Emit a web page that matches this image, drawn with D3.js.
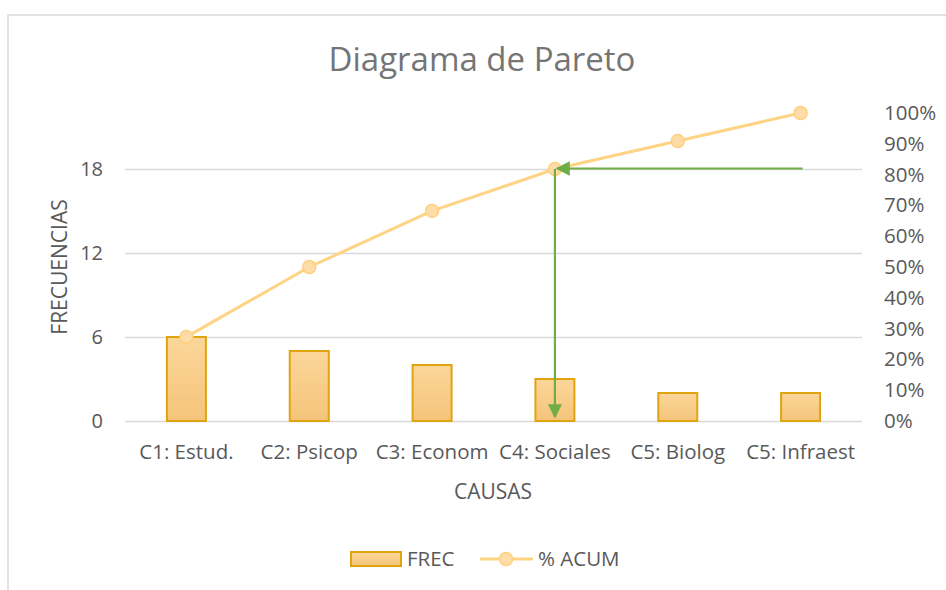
<!DOCTYPE html>
<html>
<head>
<meta charset="utf-8">
<script src="https://cdn.jsdelivr.net/npm/d3@7"></script>
<style>
  body { margin: 0; background: #fff; }
  svg { font-family: "Open Sans", Lato, sans-serif; }
</style>
</head>
<body>
<svg id="chart" width="946" height="590"></svg>
<script>
// data
var categories = ["C1: Estud.", "C2: Psicop", "C3: Econom", "C4: Sociales", "C5: Biolog", "C5: Infraest"]
var frec = [6, 5, 4, 3, 2, 2]
var acum = [27.3, 50, 68.2, 81.8, 90.9, 100]
var leftTicks = [0, 6, 12, 18]
var rightTicks = [0, 10, 20, 30, 40, 50, 60, 70, 80, 90, 100]

var svg = d3.select("#chart")
var margin = { top: 113, left: 125, right: 84, bottom: 169 }
var width = 946 - margin.left - margin.right
var height = 590 - margin.top - margin.bottom
var font = "'Open Sans', Lato, sans-serif"

var defs = svg.append("defs")
var grad = defs.append("linearGradient")
  .attr("id", "barGrad")
  .attr("x1", 0).attr("y1", 0).attr("x2", 0).attr("y2", 1)
grad.append("stop").attr("offset", "0%").attr("stop-color", "#FCD69A")
grad.append("stop").attr("offset", "100%").attr("stop-color", "#F4C47A")

defs.append("marker")
  .attr("id", "arrow")
  .attr("viewBox", "0 0 10 10")
  .attr("refX", 9).attr("refY", 5)
  .attr("markerWidth", 7).attr("markerHeight", 6.5)
  .attr("markerUnits", "strokeWidth")
  .attr("orient", "auto")
  .append("path")
  .attr("d", "M0,0 L10,5 L0,10 z")
  .attr("fill", "#70AD47")

// outer border
svg.append("rect")
  .attr("x", 8).attr("y", 15)
  .attr("width", 960).attr("height", 600)
  .attr("fill", "none")
  .attr("stroke", "#D9D9D9")
  .attr("stroke-width", 1.5)

var g = svg.append("g")
  .attr("transform", "translate(" + margin.left + "," + margin.top + ")")

var x = d3.scaleBand().domain(categories).range([0, width])
var y = d3.scaleLinear().domain([0, 22]).range([height, 0])
var y2 = d3.scaleLinear().domain([0, 100]).range([height, 0])

// gridlines
g.append("g")
  .selectAll("line")
  .data(leftTicks)
  .enter()
  .append("line")
  .attr("x1", 0).attr("x2", width)
  .attr("y1", function(d) { return Math.round(y(d)) + 0.5 })
  .attr("y2", function(d) { return Math.round(y(d)) + 0.5 })
  .attr("stroke", "#D9D9D9")
  .attr("stroke-width", 1.5)

// left axis
var yAxis = g.append("g")
  .call(d3.axisLeft(y).tickValues(leftTicks).tickSize(0).tickPadding(22))
yAxis.attr("font-family", font)
yAxis.select(".domain").remove()
yAxis.selectAll("text").attr("font-size", 20).attr("fill", "#595959")

// right axis
var y2Axis = g.append("g")
  .attr("transform", "translate(" + width + ",0)")
  .call(d3.axisRight(y2).tickValues(rightTicks).tickSize(0).tickPadding(22)
    .tickFormat(function(d) { return d + "%" }))
y2Axis.attr("font-family", font)
y2Axis.select(".domain").remove()
y2Axis.selectAll("text").attr("font-size", 20.5).attr("fill", "#595959")

// bottom axis
var xAxis = g.append("g")
  .attr("transform", "translate(0," + height + ")")
  .call(d3.axisBottom(x).tickSize(0).tickPadding(23))
xAxis.attr("font-family", font)
xAxis.select(".domain").remove()
xAxis.selectAll("text").attr("font-size", 20.5).attr("fill", "#595959")

// bars
var barW = 39
g.append("g")
  .selectAll("rect")
  .data(frec)
  .enter()
  .append("rect")
  .attr("x", function(d, i) { return x(categories[i]) + x.bandwidth() / 2 - barW / 2 })
  .attr("y", function(d) { return y(d) })
  .attr("width", barW)
  .attr("height", function(d) { return height - y(d) })
  .attr("fill", "url(#barGrad)")
  .attr("stroke", "#E0A50E")
  .attr("stroke-width", 2)

// cumulative line
var line = d3.line()
  .x(function(d, i) { return x(categories[i]) + x.bandwidth() / 2 })
  .y(function(d) { return y2(d) })
g.append("path")
  .datum(acum)
  .attr("d", line)
  .attr("fill", "none")
  .attr("stroke", "#FFD384")
  .attr("stroke-width", 3)
g.append("g")
  .selectAll("circle")
  .data(acum)
  .enter()
  .append("circle")
  .attr("cx", function(d, i) { return x(categories[i]) + x.bandwidth() / 2 })
  .attr("cy", function(d) { return y2(d) })
  .attr("r", 6.5)
  .attr("fill", "#FDDCA8")
  .attr("stroke", "#FFD07E")
  .attr("stroke-width", 1.5)

// 80% arrows
var cx4 = x(categories[3]) + x.bandwidth() / 2
var cx6 = x(categories[5]) + x.bandwidth() / 2
g.append("line")
  .attr("x1", cx6 + 2).attr("y1", y(18) - 0.5)
  .attr("x2", cx4 + 2).attr("y2", y(18) - 0.5)
  .attr("stroke", "#70AD47")
  .attr("stroke-width", 2.2)
  .attr("marker-end", "url(#arrow)")
g.append("line")
  .attr("x1", cx4).attr("y1", y(18))
  .attr("x2", cx4).attr("y2", y(0) - 4)
  .attr("stroke", "#70AD47")
  .attr("stroke-width", 2.2)
  .attr("marker-end", "url(#arrow)")

// title and axis titles
svg.append("text")
  .attr("x", 482).attr("y", 71)
  .attr("text-anchor", "middle")
  .attr("font-size", 33)
  .attr("fill", "#757575")
  .text("Diagrama de Pareto")
svg.append("text")
  .attr("transform", "translate(67,267) rotate(-90)")
  .attr("text-anchor", "middle")
  .attr("font-size", 21)
  .attr("fill", "#595959")
  .text("FRECUENCIAS")
svg.append("text")
  .attr("x", 493).attr("y", 499)
  .attr("text-anchor", "middle")
  .attr("font-size", 21)
  .attr("fill", "#595959")
  .text("CAUSAS")

// legend
var legend = svg.append("g").attr("transform", "translate(0,559)")
legend.append("rect")
  .attr("x", 351).attr("y", -7)
  .attr("width", 50).attr("height", 14)
  .attr("fill", "url(#barGrad)")
  .attr("stroke", "#E0A50E")
  .attr("stroke-width", 2)
legend.append("text")
  .attr("x", 407).attr("y", 7)
  .attr("font-size", 20.5).attr("fill", "#595959")
  .text("FREC")
legend.append("line")
  .attr("x1", 480).attr("x2", 533)
  .attr("stroke", "#FFD384").attr("stroke-width", 3)
legend.append("circle")
  .attr("cx", 506).attr("r", 6.5)
  .attr("fill", "#FDDCA8").attr("stroke", "#FFD07E").attr("stroke-width", 1.5)
legend.append("text")
  .attr("x", 538).attr("y", 7)
  .attr("font-size", 20.5).attr("fill", "#595959")
  .text("% ACUM")
</script>
</body>
</html>
